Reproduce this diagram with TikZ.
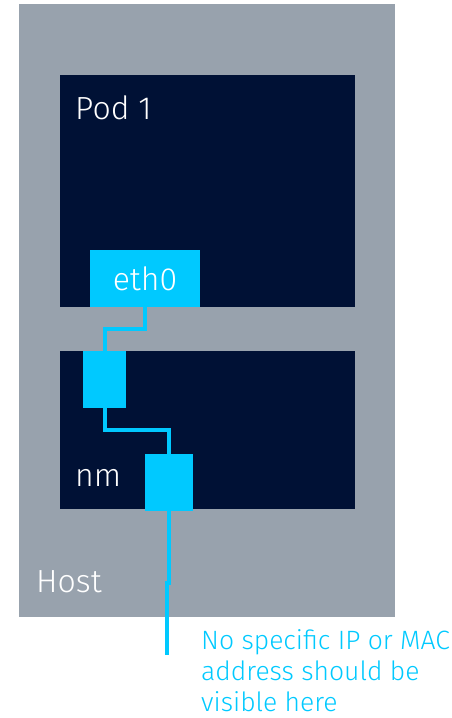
\documentclass[tikz,border=0pt]{standalone}
\usepackage{fontspec}
\setmainfont{Fira Sans Light}
\definecolor{hostgray}{HTML}{98A2AD}
\definecolor{podnavy}{HTML}{001135}
\definecolor{ifcyan}{HTML}{00C9FF}
\begin{document}
\begin{tikzpicture}[x=1pt,y=-1pt,
  box/.style={anchor=north west,inner sep=0pt,outer sep=0pt},
  wire/.style={draw=ifcyan,line width=4pt},
  lbl/.style={anchor=base west,inner sep=0pt,font=\fontsize{32}{36}\selectfont}]
\useasboundingbox (0,0) rectangle (452,718);
\node[box,fill=hostgray,minimum width=376,minimum height=613] (host) at (19,4) {};
\node[box,fill=podnavy,minimum width=295,minimum height=232] (pod) at (60,75) {};
\node[box,fill=podnavy,minimum width=295,minimum height=158] (nm) at (60,351) {};
\node[box,fill=ifcyan,minimum width=110,minimum height=57,text=white,font=\fontsize{32}{36}\selectfont] (eth0) at (90,250) {eth0};
\node[box,fill=ifcyan,minimum width=43,minimum height=57] (b1) at (83,351) {};
\node[box,fill=ifcyan,minimum width=48,minimum height=57] (b2) at (145,454) {};
\node[lbl,text=white] (podl) at (75,119) {Pod 1};
\node[lbl,text=white] (nml) at (75,486) {nm};
\node[lbl,text=white] (hostl) at (36,592) {Host};
\coordinate (jog) at (169,583);
\coordinate (wend) at (167,655);
\draw[wire] (eth0.south) -- (eth0.south |- 0,329) -| (b1.north);
\draw[wire] (b1.south) -- (b1.south |- 0,430) -| (b2.north);
\draw[wire] (b2.south) -- (jog) -- (jog -| wend) -- (wend);
\node[text=ifcyan,align=left,anchor=base west,inner sep=0pt,font=\fontsize{26.5}{31}\selectfont] (note) at (201,711) {No specific IP or MAC\\address should be\\visible here};
\end{tikzpicture}
\end{document}
